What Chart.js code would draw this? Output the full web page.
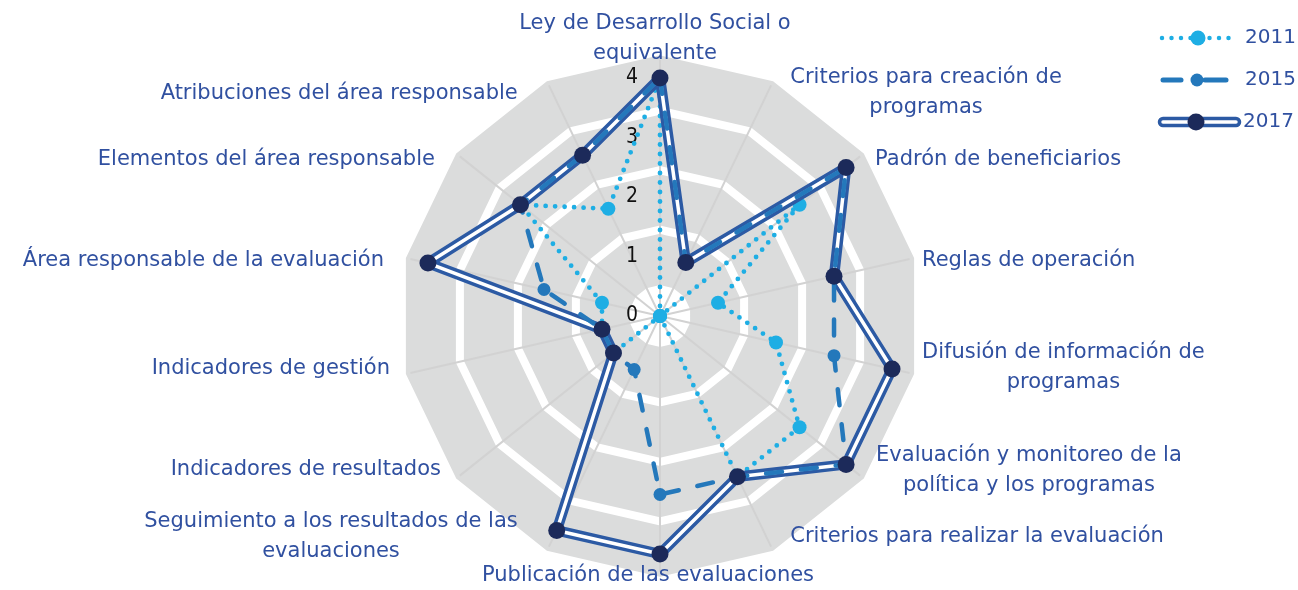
<!DOCTYPE html>
<html><head><meta charset="utf-8">
<script src="https://cdn.jsdelivr.net/npm/chart.js@4.4.0/dist/chart.umd.min.js"></script>
<style>html,body{margin:0;padding:0;background:#fff;}canvas{display:block;}</style>
</head><body>
<canvas id="c" width="1298" height="590"></canvas>
<script>
// ---- data ----
const categories = [
  ["Ley de Desarrollo Social o", "equivalente"],
  ["Criterios para creación de", "programas"],
  "Padrón de beneficiarios",
  "Reglas de operación",
  ["Difusión de información de", "programas"],
  ["Evaluación y monitoreo de la", "política y los programas"],
  "Criterios para realizar la evaluación",
  "Publicación de las evaluaciones",
  ["Seguimiento a los resultados de las", "evaluaciones"],
  "Indicadores de resultados",
  "Indicadores de gestión",
  "Área responsable de la evaluación",
  "Elementos del área responsable",
  "Atribuciones del área responsable"
];
const seriesNames = ["2011", "2015", "2017"];
const values2011 = [4, 0, 3, 1, 2, 3, 3, 0, 0, 1, 1, 1, 3, 2];
const values2015 = [4, 1, 4, 3, 3, 4, 3, 3, 1, 1, 1, 2, 3, 3];
const values2017 = [4, 1, 4, 3, 4, 4, 3, 4, 4, 1, 1, 4, 3, 3];
const tickValues = [0, 1, 2, 3, 4];

// ---- layout / style (not data) ----
const C2011 = '#1eaee4', C2015 = '#2478bb', C2017 = '#2c5aa4', C2017pt = '#1c2a5a';
const TEXT = '#3050a0';
const LABEL_FONT = '21px "DejaVu Sans", sans-serif';
const labelLayout = [
  {align:'center', dx:-5,  dy:-39},
  {align:'left',   dx:27,  dy:-9},
  {align:'left',   dx:29,  dy:-8},
  {align:'left',   dx:30,  dy:-2},
  {align:'left',   dx:30,  dy:-1},
  {align:'left',   dx:30,  dy:6},
  {align:'left',   dx:27,  dy:6},
  {align:'center', dx:-12, dy:22},
  {align:'right',  dx:-39, dy:6},
  {align:'right',  dx:-33, dy:5},
  {align:'right',  dx:-38, dy:0},
  {align:'right',  dx:-44, dy:-2},
  {align:'right',  dx:-39, dy:-8},
  {align:'right',  dx:-39, dy:-8}
];

const radarDecor = {
  id: 'radarDecor',
  beforeDatasetsDraw(chart) {
    const s = chart.scales.r, ctx = chart.ctx, n = chart.data.labels.length;
    ctx.save();
    // gray bands
    ctx.strokeStyle = '#dbdcdc';
    ctx.lineWidth = 50;
    ctx.lineJoin = 'miter';
    tickValues.forEach(v => {
      if (v === 0) return;
      const d = s.getDistanceFromCenterForValue(v) - 3;
      ctx.beginPath();
      for (let i = 0; i < n; i++) {
        const p = s.getPointPosition(i, d);
        if (i === 0) ctx.moveTo(p.x, p.y); else ctx.lineTo(p.x, p.y);
      }
      ctx.closePath();
      ctx.stroke();
    });
    // angle lines
    ctx.strokeStyle = '#d2d2d2';
    ctx.lineWidth = 2;
    const L = s.getDistanceFromCenterForValue(s.max) + 18;
    for (let i = 0; i < n; i++) {
      const p = s.getPointPosition(i, L);
      ctx.beginPath();
      ctx.moveTo(s.xCenter, s.yCenter);
      ctx.lineTo(p.x, p.y);
      ctx.stroke();
    }
    // tick labels
    ctx.fillStyle = '#111';
    ctx.font = '21px "Liberation Sans Narrow", "DejaVu Sans Condensed", sans-serif';
    ctx.textAlign = 'center';
    ctx.textBaseline = 'middle';
    s.ticks.forEach(t => {
      const d = s.getDistanceFromCenterForValue(t.value);
      ctx.fillText(String(t.value), s.xCenter - 28, s.yCenter - d);
    });
    ctx.restore();
  },
  afterDraw(chart) {
    const s = chart.scales.r, ctx = chart.ctx;
    ctx.save();
    ctx.font = LABEL_FONT;
    ctx.fillStyle = TEXT;
    ctx.textBaseline = 'middle';
    ctx.textAlign = 'center';
    const R = s.getDistanceFromCenterForValue(s.max);
    const lh = 30;
    chart.data.labels.forEach((lab, i) => {
      const lines = Array.isArray(lab) ? lab : [lab];
      const p = s.getPointPosition(i, R);
      const lay = labelLayout[i];
      const w = Math.max(...lines.map(l => ctx.measureText(l).width));
      let cx = p.x + lay.dx;
      if (lay.align === 'left') cx += w / 2;
      else if (lay.align === 'right') cx -= w / 2;
      const cy = p.y + lay.dy;
      const y0 = cy - (lines.length - 1) * lh / 2;
      lines.forEach((l, k) => ctx.fillText(l, cx, y0 + k * lh));
    });
    // legend
    const lx0 = 1160, lx1 = 1237, tx = 1245;
    const rows = [38, 80, 122];
    ctx.lineCap = 'round';
    ctx.strokeStyle = C2011; ctx.lineWidth = 4.5; ctx.setLineDash([0, 9.5]);
    ctx.beginPath(); ctx.moveTo(lx0 + 2, rows[0]); ctx.lineTo(lx1, rows[0]); ctx.stroke();
    ctx.setLineDash([]);
    ctx.fillStyle = C2011; ctx.beginPath(); ctx.arc(1198, rows[0], 7.5, 0, Math.PI * 2); ctx.fill();
    ctx.strokeStyle = C2015; ctx.lineWidth = 5;
    ctx.beginPath(); ctx.moveTo(1163, rows[1]); ctx.lineTo(1181, rows[1]); ctx.stroke();
    ctx.beginPath(); ctx.moveTo(1205, rows[1]); ctx.lineTo(1226, rows[1]); ctx.stroke();
    ctx.fillStyle = C2015; ctx.beginPath(); ctx.arc(1197, rows[1], 6.5, 0, Math.PI * 2); ctx.fill();
    ctx.strokeStyle = C2017; ctx.lineWidth = 10.5;
    ctx.beginPath(); ctx.moveTo(1163, rows[2]); ctx.lineTo(1236, rows[2]); ctx.stroke();
    ctx.strokeStyle = '#ffffff'; ctx.lineWidth = 3.5;
    ctx.beginPath(); ctx.moveTo(1163, rows[2]); ctx.lineTo(1236, rows[2]); ctx.stroke();
    ctx.fillStyle = C2017pt; ctx.beginPath(); ctx.arc(1196, rows[2], 8.5, 0, Math.PI * 2); ctx.fill();
    ctx.fillStyle = TEXT; ctx.textAlign = 'left'; ctx.font = '20px "DejaVu Sans", sans-serif';
    seriesNames.forEach((nm, k) => ctx.fillText(nm, k === 2 ? tx - 2 : tx, rows[k]));
    ctx.restore();
  }
};

new Chart(document.getElementById('c'), {
  type: 'radar',
  data: {
    labels: categories,
    datasets: [
      {label: seriesNames[2], data: values2017, showLine: false, fill: false,
       backgroundColor: 'rgba(0,0,0,0)', pointRadius: 8.5,
       pointBackgroundColor: C2017pt, pointBorderColor: C2017pt, pointBorderWidth: 0, order: 0},
      {label: seriesNames[1], data: values2015, borderColor: C2015, borderWidth: 4.5,
       backgroundColor: 'rgba(0,0,0,0)',
       borderDash: [16, 19], borderCapStyle: 'round', borderJoinStyle: 'round',
       pointRadius: 6.5, pointBackgroundColor: C2015, pointBorderColor: C2015, pointBorderWidth: 0,
       fill: false, order: 1},
      {label: seriesNames[2] + ' core', data: values2017, borderColor: '#ffffff', borderWidth: 3.5,
       backgroundColor: 'rgba(0,0,0,0)',
       borderJoinStyle: 'round', pointRadius: 0, fill: false, order: 2},
      {label: seriesNames[2] + ' line', data: values2017, borderColor: C2017, borderWidth: 10.5,
       backgroundColor: 'rgba(0,0,0,0)',
       borderJoinStyle: 'round', pointRadius: 0, fill: false, order: 3},
      {label: seriesNames[0], data: values2011, borderColor: C2011, borderWidth: 4.8,
       backgroundColor: 'rgba(0,0,0,0)',
       borderDash: [0, 9.5], borderCapStyle: 'round', borderJoinStyle: 'round',
       pointRadius: 7, pointBackgroundColor: C2011, pointBorderColor: C2011, pointBorderWidth: 0,
       fill: false, order: 4}
    ]
  },
  options: {
    responsive: false,
    animation: false,
    devicePixelRatio: 1,
    layout: {padding: {top: 78, bottom: 36, left: 300, right: 278}},
    plugins: {legend: {display: false}, tooltip: {enabled: false}},
    elements: {line: {tension: 0}},
    scales: {
      r: {
        min: 0, max: 4,
        ticks: {stepSize: 1, display: false},
        grid: {display: false},
        angleLines: {display: false},
        pointLabels: {display: false}
      }
    }
  },
  plugins: [radarDecor]
});
</script>
</body></html>
